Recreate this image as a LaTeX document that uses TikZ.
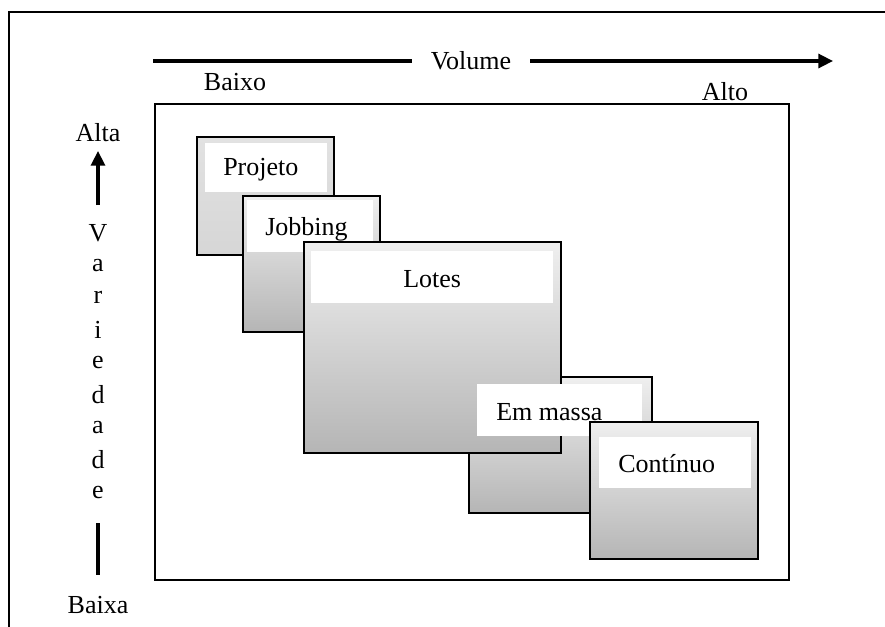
\documentclass[tikz,border=0pt]{standalone}
\usepackage{fontspec}
\setmainfont{Liberation Serif}
\usetikzlibrary{arrows.meta,fit}

\definecolor{boxtop}{HTML}{EFEFEF}
\definecolor{boxbot}{HTML}{B5B5B5}
\definecolor{projtop}{HTML}{E2E2E2}
\definecolor{projbot}{HTML}{D6D6D6}

\begin{document}
\begin{tikzpicture}[x=0.75pt,y=-0.75pt,
  every node/.style={font=\fontsize{19.5}{23}\selectfont},
  frame/.style={draw=black, line width=1.5pt},
  stage/.style={draw=black, line width=1.5pt, inner sep=0pt, outer sep=0pt,
                top color=boxtop, bottom color=boxbot},
  tag/.style={fill=white, draw=none, inner sep=0pt, outer sep=0pt},
  word/.style={inner sep=0pt, anchor=base west},
  axis/.style={line width=2.4pt},
  tip/.style={-{Triangle[length=11pt,width=10.5pt]}}
]
\useasboundingbox (0,0) rectangle (885,626);

% outer page frame (only top and left edges fall inside the page)
\draw[frame] (9,660) -- (9,12) -- (900,12);

% horizontal axis: volume
\coordinate (v0) at (153,61);
\coordinate (v1) at (833,61);
\node[inner xsep=14pt, inner ysep=0pt] (volume) at (471,61) {Volume};
\draw[axis] (v0) -- (volume.west);
\draw[axis,tip] (volume.east) -- (v1);
\node (baixo) at (235,82) {Baixo};
\node (alto) at (725,92) {Alto};

% vertical axis: variety
\node (alta) at (98,133) {Alta};
\coordinate (a0) at (98,205);
\coordinate (a1) at (98,151);
\draw[axis,tip] (a0) -- (a1);
\foreach \ch [count=\i from 0] in {V,a,r,i,e,d,a,d,e}
  \node[inner sep=0pt] (letter\i) at (98,{233+32.4*\i}) {\ch};
\coordinate (b0) at (98,523);
\coordinate (b1) at (98,575);
\draw[axis] (b0) -- (b1);
\node (baixa) at (98,605) {Baixa};

% field of process types
\node[fit={(155,104) (789,580)}, draw=black, line width=1.5pt, inner sep=0pt] (field) {};

% Projeto
\node[stage, top color=projtop, bottom color=projbot, fit={(197,137) (334,255)}] (projeto) {};
\node[tag, fit={(205,143) (327,192)}] (projetotag) {};
\node[word] (projetotxt) at (223,175) {Projeto};

% Jobbing
\node[stage, fit={(243,196) (380,332)}] (jobbing) {};
\node[tag, fit={(247,200) (373,252)}] (jobbingtag) {};
\node[word] (jobbingtxt) at (265,235) {Jobbing};

% Em massa (box behind Lotes)
\node[stage, fit={(469,377) (652,513)}] (massa) {};

% Lotes
\node[stage, fit={(304,242) (561,453)}] (lotes) {};
\node[tag, fit={(311,251) (553,303)}] (lotestag) {};
\node[word] (lotestxt) at (403,287) {Lotes};

% Em massa label
\node[tag, fit={(477,384) (642,436)}] (massatag) {};
\node[word] (massatxt) at (496,420) {Em massa};

% Contínuo
\node[stage, fit={(590,422) (758,559)}] (continuo) {};
\node[tag, fit={(599,437) (751,488)}] (continuotag) {};
\node[word] (continuotxt) at (618,472) {Contínuo};
\end{tikzpicture}
\end{document}
